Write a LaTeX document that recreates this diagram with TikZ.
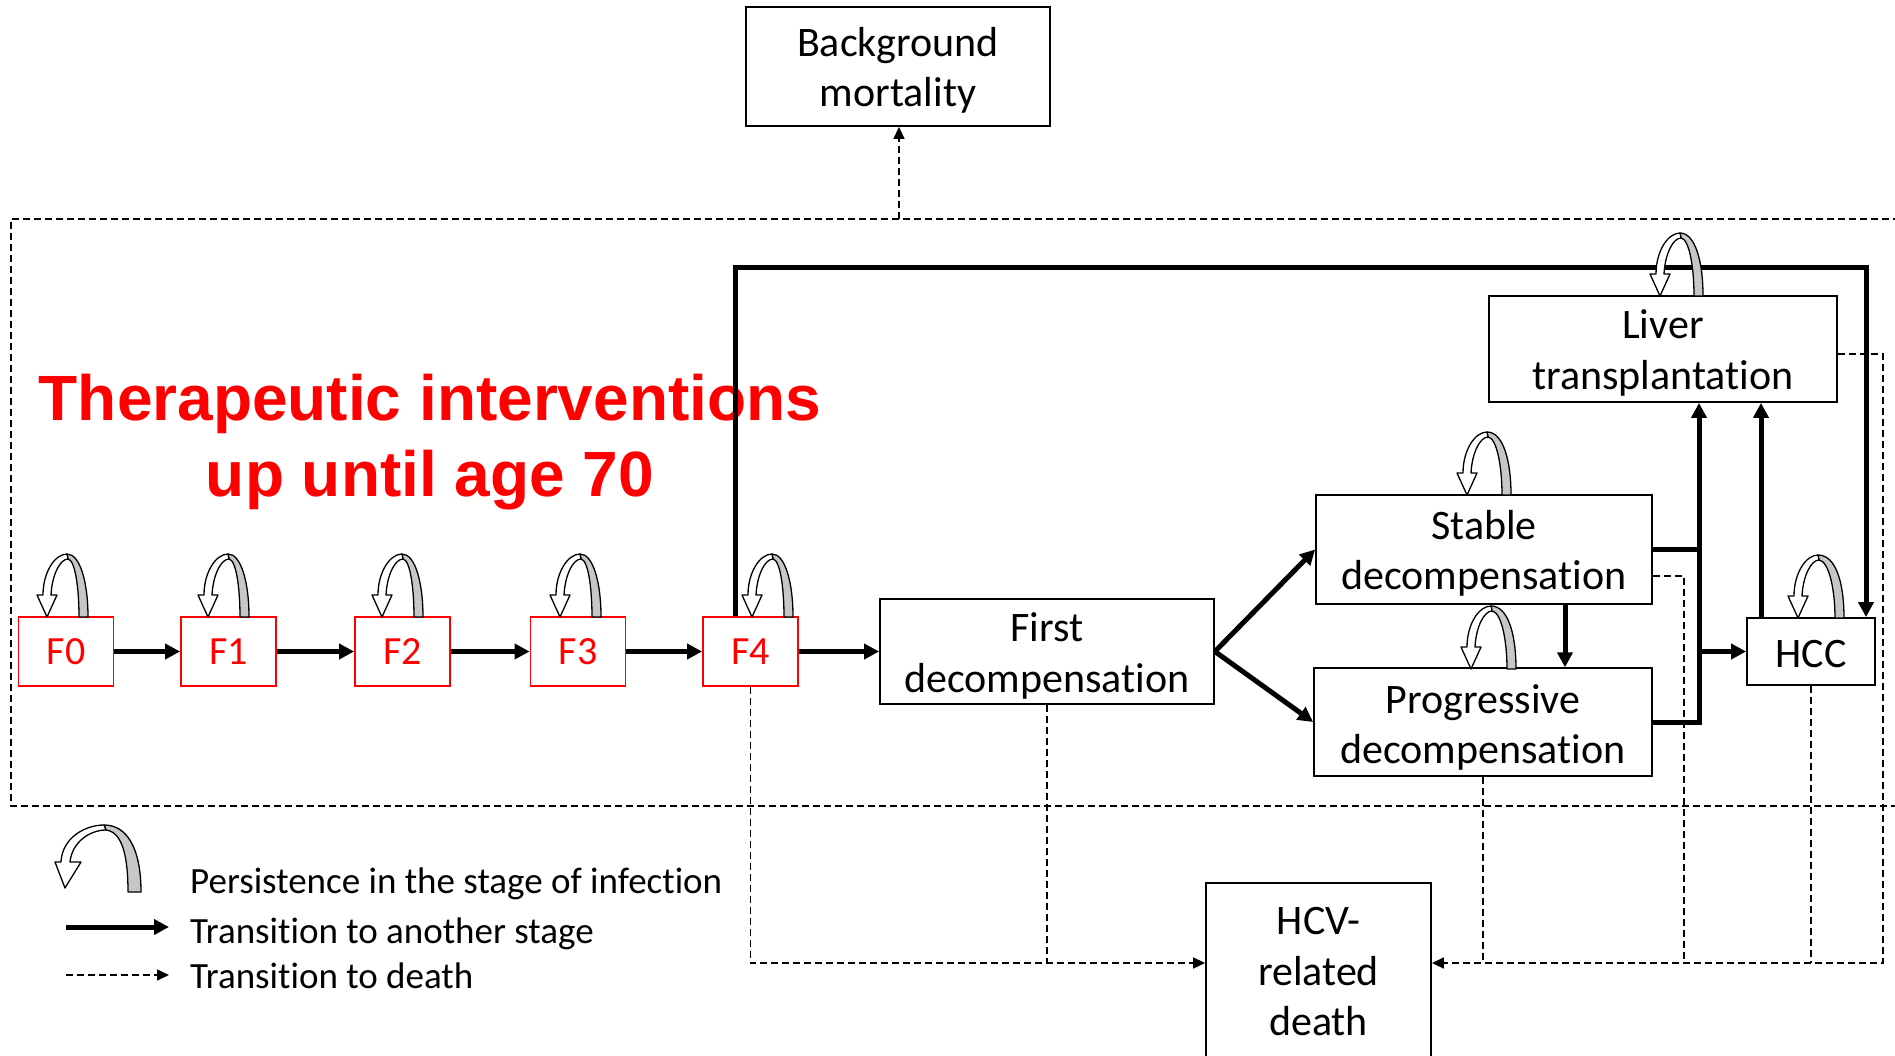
\documentclass[tikz,border=0pt]{standalone}
\usepackage{fontspec}
\setmainfont{Carlito}[Ligatures=NoCommon]
\newfontfamily\arialfont{Liberation Sans}
\usetikzlibrary{arrows.meta,calc}
\newcommand{\boxtopstrut}[1]{\rule{0pt}{#1pt}}
\newcommand{\boxbotstrut}{\rule[-12pt]{0pt}{0pt}}
\tikzset{
  box/.style={draw, line width=1.8pt, align=center, inner sep=0pt, font=\fontsize{42}{50.5}\selectfont},
  fstage/.style={draw=red, line width=1.8pt, text=red, minimum width=95pt, minimum height=69pt, inner sep=0pt, font=\fontsize{40}{48}\selectfont},
  thickarrow/.style={line width=5pt, line join=miter, -{Triangle[length=15pt,width=15pt]}},
  thickline/.style={line width=5pt},
  deathline/.style={line width=1.6pt, dash pattern=on 7pt off 4pt},
  deatharrow/.style={deathline, -{Triangle[length=12pt,width=11pt]}},
  loopwhite/.style={fill=white, draw=black, line width=1.3pt, line join=round},
  loopgray/.style={fill=black!22, draw=black, line width=1.3pt, line join=round},
  legendtext/.style={anchor=base west, inner sep=0pt, font=\fontsize{37}{44}\selectfont},
}
\newcommand{\selfloop}[3]{%
  \begin{scope}[shift={(#1,#2)}]
    \path[loopgray] (20,-63) .. controls ({33+#3},-63) and ({41+#3},-35) .. ({41+#3},0) -- ({32+#3},0) .. controls ({32+#3},-30) and ({28+#3/2},-57) .. (21,-58) -- cycle;
    \path[loopwhite] (-10,-22) -- (0,0) -- (10,-22) -- (4,-22) .. controls (5,-42) and (13,-58) .. (21,-58) -- (20,-63) .. controls (8,-63) and (-4,-45) .. (-4,-22) -- cycle;
  \end{scope}}
\begin{document}
\begin{tikzpicture}[x=1pt,y=-1pt]
\useasboundingbox (0,0) rectangle (1895,1055);
\clip (0,0) rectangle (1895,1055);
\fill[white] (0,0) rectangle (1895,1055);

% frame of the intervention period
\draw[deathline] (1900,219) -- (11,219) -- (11,806) -- (1900,806);

% title
\node[font=\arialfont\bfseries\fontsize{64}{76}\selectfont, text=red, align=center, inner sep=0pt] (title) at (430,442) {Therapeutic interventions\\up until age 70};

% nodes
\node[box, minimum width=304pt, minimum height=119pt] (bm) at (898,66.5) {\boxtopstrut{41.5}Background\\mortality\boxbotstrut};
\node[box, minimum width=334pt, minimum height=105pt] (fd) at (1047,651.5) {\boxtopstrut{43}First\\decompensation\boxbotstrut};
\node[box, minimum width=336pt, minimum height=109pt] (sd) at (1484,549.5) {\boxtopstrut{42}Stable\\decompensation\boxbotstrut};
\node[box, minimum width=338pt, minimum height=106pt] (pd) at (1483,722) {\boxtopstrut{45}Progressive\\decompensation\boxbotstrut};
\node[box, minimum width=348pt, minimum height=106pt] (lt) at (1663,349) {\boxtopstrut{42}Liver\\transplantation\boxbotstrut};
\node[box, minimum width=128pt, minimum height=67pt] (hcc) at (1811,651.5) {\boxtopstrut{43}HCC\boxbotstrut};
\node[box, minimum width=225pt, minimum height=178pt] (hcv) at (1318.5,972) {\boxtopstrut{38}HCV-\\related\\death\boxbotstrut};

\node[fstage] (f0) at (66,651.5) {F0};
\node[fstage] (f1) at (228.5,651.5) {F1};
\node[fstage] (f2) at (402.5,651.5) {F2};
\node[fstage] (f3) at (578,651.5) {F3};
\node[fstage] (f4) at (750.5,651.5) {F4};

% helper coordinates
\coordinate (xsp) at (1565,0);
\coordinate (jx) at (1699,0);
\coordinate (xh) at (1761,0);
\coordinate (xf4) at (735,0);
\coordinate (ytop) at (0,267);
\coordinate (xr) at (1866,0);
\coordinate (yd) at (0,963);
\coordinate (ys) at (0,576);
\coordinate (xs) at (1684,0);
\coordinate (yl) at (0,354);
\coordinate (xl) at (1883,0);
\coordinate (xb) at (899,0);
\coordinate (yt) at (0,219);

% transitions
\draw[thickarrow] (f0) -- (f1);
\draw[thickarrow] (f1) -- (f2);
\draw[thickarrow] (f2) -- (f3);
\draw[thickarrow] (f3) -- (f4);
\draw[thickarrow] (f4) -- (fd);
\draw[thickarrow] (fd.east) -- (sd.west);
\draw[thickarrow] (fd.east) -- (pd.west);
\draw[thickarrow] (sd.south -| xsp) -- (pd.north -| xsp);
\draw[thickline] (sd.east) -- (sd.east -| jx);
\draw[thickarrow] (pd.east) -- (pd.east -| jx) -- (lt.south -| jx);
\draw[thickarrow] (hcc.west -| jx) -- (hcc.west);
\draw[thickarrow] (hcc.north -| xh) -- (lt.south -| xh);
\draw[thickarrow] (f4.north -| xf4) -- (xf4 |- ytop) -- (xr |- ytop) -- (hcc.north -| xr);

% deaths
\draw[deatharrow] (f4.south) -- (f4.south |- yd) -- (hcv.west |- yd);
\draw[deathline] (fd.south) -- (fd.south |- yd);
\draw[deathline] (pd.south) -- (pd.south |- yd);
\draw[deathline] (sd.east |- ys) -- (xs |- ys) -- (xs |- yd);
\draw[deathline] (hcc.south) -- (hcc.south |- yd);
\draw[deatharrow] (lt.east |- yl) -- (xl |- yl) -- (xl |- yd) -- (hcv.east |- yd);
\draw[deatharrow] (xb |- yt) -- (bm.south -| xb);

% self loops
\selfloop{47}{617}{0}
\selfloop{208}{617}{0}
\selfloop{382}{617}{0}
\selfloop{560}{617}{0}
\selfloop{752}{617}{0}
\selfloop{1467}{495}{3}
\selfloop{1471}{669}{4}
\selfloop{1798}{618}{5}
\selfloop{1660}{296}{2}

% legend
\path[loopgray] (104,825) .. controls (128,825) and (141,850) .. (141,892) -- (128,892) .. controls (128,855) and (122,832) .. (106,830) -- cycle;
\path[loopwhite] (55,862) -- (65,888) -- (81,862) -- (70,862) .. controls (72,842) and (90,830) .. (106,830) -- (104,825) .. controls (85,825) and (62,838) .. (61,862) -- cycle;
\coordinate (la1) at (66,927);
\coordinate (la2) at (169,927);
\coordinate (lb1) at (66,975);
\coordinate (lb2) at (169,975);
\draw[thickarrow] (la1) -- (la2);
\draw[deatharrow] (lb1) -- (lb2);
\node[legendtext] (lg1) at (190,893) {Persistence in the stage of infection};
\node[legendtext] (lg2) at (190,943) {Transition to another stage};
\node[legendtext] (lg3) at (190,988) {Transition to death};
\end{tikzpicture}
\end{document}
